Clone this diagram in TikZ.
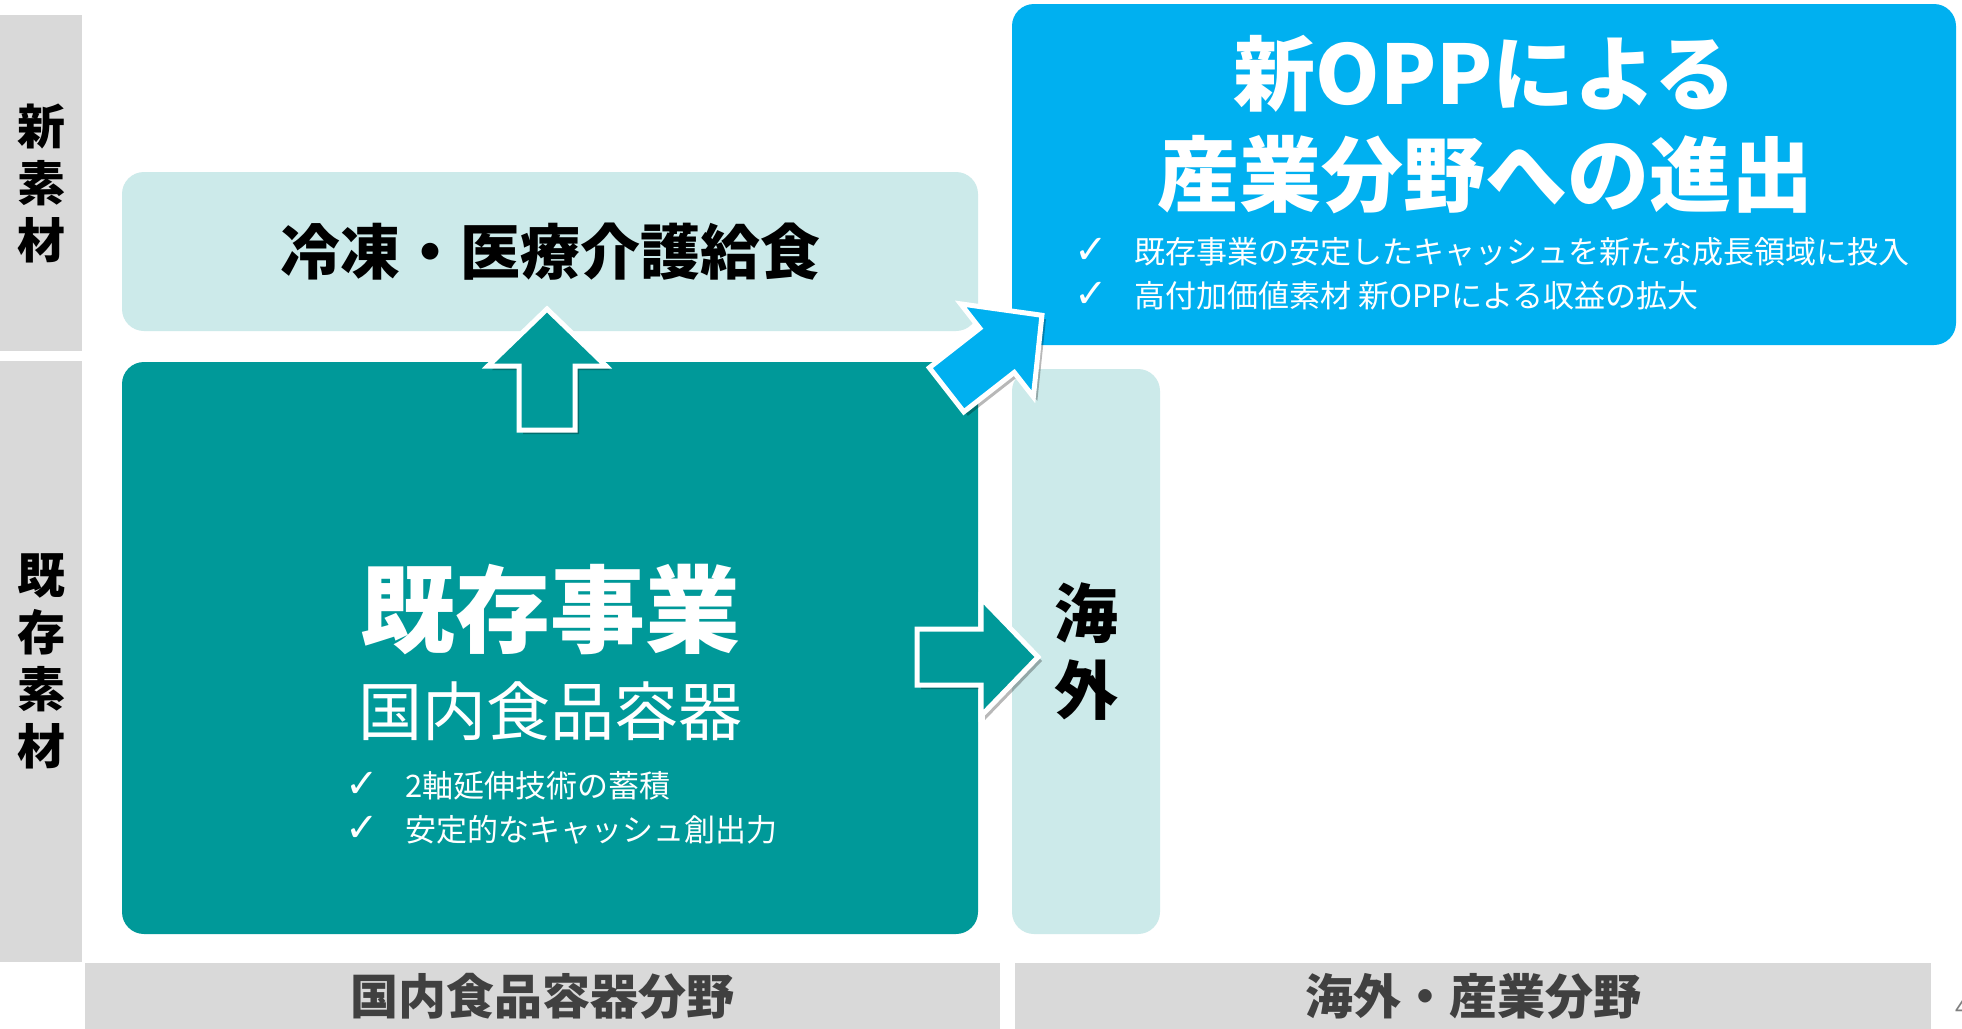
\documentclass[tikz,border=0pt]{standalone}
\usepackage{fontspec}
\setmainfont{Noto Sans CJK JP}
\newfontfamily\checkfont{DejaVu Sans}
\usetikzlibrary{positioning}

\definecolor{existteal}{RGB}{0,153,153}
\definecolor{paleaqua}{RGB}{204,234,234}
\definecolor{oppblue}{RGB}{0,176,240}
\definecolor{bargray}{RGB}{217,217,217}
\definecolor{bartext}{RGB}{64,64,64}

\newcommand{\tick}{\makebox[60pt][l]{\checkfont\fontsize{40}{40}\selectfont ✓}}

\tikzset{
  axisbox/.style={fill=bargray, inner sep=0pt, align=center},
  fieldbox/.style={rounded corners=22, inner sep=0pt},
  bullettext/.style={anchor=north west, inner sep=0pt, align=left, text=white,
    font=\fontsize{31}{44}\selectfont},
  arrowpath/.style={insert path={(2,-28) -- (66,-28) -- (66,-59) -- (123,0) -- (66,59) -- (66,28) -- (2,28) -- cycle}},
  arrowshade/.style={fill=black, opacity=0.28},
  blockarrow/.style={fill=#1, draw=white, line width=5, line join=miter},
}

\begin{document}
\begin{tikzpicture}[x=1pt,y=1pt,yscale=-1,xscale=1]
\useasboundingbox (0,0) rectangle (1962,1028);
\fill[white] (0,0) rectangle (1962,1028);
% material axis
\node[axisbox, minimum width=82, minimum height=336, font=\bfseries\fontsize{48}{57}\selectfont] (newmat) at (41,183) {新\\素\\材};
\node[axisbox, minimum width=82, minimum height=601, font=\bfseries\fontsize{48}{57}\selectfont] (oldmat) at (41,661.5) {既\\存\\素\\材};
% field axis
\node[axisbox, minimum width=915, minimum height=67, text=bartext, font=\bfseries\fontsize{48}{56}\selectfont] (domfield) at (542.5,996.5) {国内食品容器分野};
\node[axisbox, minimum width=916, minimum height=67, text=bartext, font=\bfseries\fontsize{48}{56}\selectfont] (indfield) at (1473,996.5) {海外・産業分野};
% business boxes
\node[fieldbox, fill=paleaqua, minimum width=856, minimum height=159, font=\bfseries\fontsize{60}{72}\selectfont] (frozen) at (550,251.5) {冷凍・医療介護給食};
\node[fieldbox, fill=existteal, minimum width=856, minimum height=572] (core) at (550,648) {};
\node[fieldbox, fill=paleaqua, minimum width=148, minimum height=565, align=center, font=\bfseries\fontsize{64}{77}\selectfont] (overseas) at (1086,651.5) {海\\外};
\node[fieldbox, fill=oppblue, minimum width=944, minimum height=341] (opp) at (1484,174.5) {};
% texts in the core box
\node[inner sep=0pt, text=white, font=\bfseries\fontsize{95}{100}\selectfont] (corebiz) at (550,610) {既存事業};
\node[inner sep=0pt, text=white, font=\fontsize{64}{70}\selectfont, below=26 of corebiz] (corefood) {国内食品容器};
\node[bullettext] (corepoints) at (345,771) {\tick 2軸延伸技術の蓄積\\\tick 安定的なキャッシュ創出力};
% texts in the OPP box
\node[inner sep=0pt, text=white, align=center, font=\bfseries\fontsize{82}{101}\selectfont] (opptitle) at (1485,125) {新OPPによる\\産業分野への進出};
\node[bullettext] (opppoints) at (1074,237) {\tick 既存事業の安定したキャッシュを新たな成長領域に投入\\\tick 高付加価値素材 新OPPによる収益の拡大};
% block arrows
\fill[arrowshade, shift={(551,436)}, rotate=-90, arrowpath];
\filldraw[blockarrow=existteal, shift={(547,432)}, rotate=-90, arrowpath];
\fill[arrowshade, shift={(919,661)}, arrowpath];
\filldraw[blockarrow=existteal, shift={(915,657)}, arrowpath];
\fill[arrowshade, shift={(949,395)}, rotate=-38, arrowpath];
\filldraw[blockarrow=oppblue, shift={(945,391)}, rotate=-38, arrowpath];
% page number
\node[anchor=west, inner sep=0pt, text=gray, font=\fontsize{24}{24}\selectfont] (pagenum) at (1955,1008) {4};
\end{tikzpicture}
\end{document}
